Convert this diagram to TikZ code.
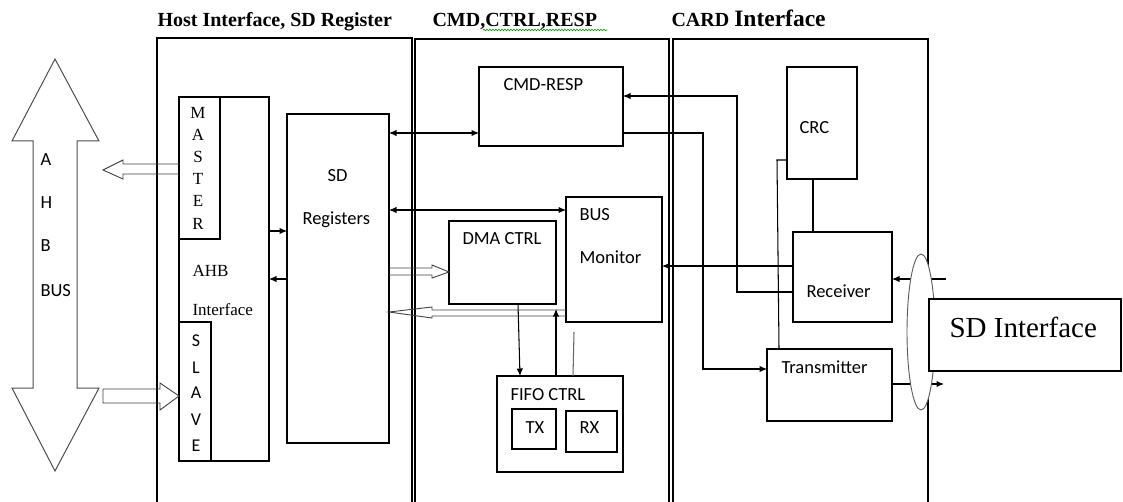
\documentclass[tikz,border=0pt]{standalone}
\usepackage{fontspec}
\setmainfont{Liberation Serif}
\newfontfamily\calib{Carlito}
\usetikzlibrary{arrows.meta,calc,decorations.pathmorphing}
\begin{document}
\begin{tikzpicture}[x=1pt,y=-1pt,
 line width=1.05pt,
 box/.style={draw, inner sep=0pt, outer sep=0pt, anchor=north west},
 sans/.style={inner sep=0pt, anchor=base west, font=\calib\fontsize{18.5}{20}\selectfont},
 serif/.style={inner sep=0pt, anchor=base west, font=\fontsize{17}{19}\selectfont},
 sercen/.style={inner sep=0pt, anchor=base, font=\fontsize{17}{18}\selectfont},
 sanscen/.style={inner sep=0pt, anchor=base, font=\calib\fontsize{18}{20}\selectfont},
 title/.style={inner sep=0pt, anchor=base west, font=\bfseries\fontsize{20}{22}\selectfont},
 arr/.style={-{Latex[length=7.5pt,width=6.5pt]}},
 darr/.style={{Latex[length=7.5pt,width=6.5pt]}-{Latex[length=7.5pt,width=6.5pt]}},
 hollow/.style={draw=black!75, line width=0.9pt},
 panel/.style={draw, line width=1.2pt}
]
\useasboundingbox (0,0) rectangle (1123,502);

% panels
\draw[panel] (157,503) -- (157,38) -- (412,38) -- (412,503);
\draw[panel] (415,503) -- (415,39) -- (669,39) -- (669,503);
\draw[panel] (673,503) -- (673,39) -- (928,39) -- (928,503);

% titles
\node[title] (t1) at (157,27) {Host Interface, SD Register};
\node[title] (t2) at (432,27) {CMD,CTRL,RESP};
\node[title] (t3) at (671,27) {CARD {\fontsize{23.5}{24}\selectfont Interface}};
\draw[green!60!black, line width=0.6pt, decorate, decoration={snake, amplitude=0.8pt, segment length=3pt}] (483,30) -- (607,30);

% AHB bus arrow
\draw[draw=black!70, line width=1pt] (55,59) -- (99,141) -- (77,141) -- (77,388) -- (99,388) -- (55,471) -- (12,388) -- (33,388) -- (33,141) -- (12,141) -- cycle;
\node[sans] (bA) at (40,166) {A};
\node[sans] (bH) at (40,209) {H};
\node[sans] (bB) at (40,252) {B};
\node[sans] (bBUS) at (40,296) {BUS};

% host boxes
\node[box, minimum width=90, minimum height=364] (ahb) at (179,97) {};
\node[box, minimum width=41, minimum height=142] (master) at (179,97) {};
\node[box, minimum width=32, minimum height=139] (slave) at (179,322) {};
\node[box, minimum width=102, minimum height=329] (sdreg) at (287,114) {};

\node[sercen] (m1) at (198,119) {M};
\node[sercen] (m2) at (198,141) {A};
\node[sercen] (m3) at (198,163) {S};
\node[sercen] (m4) at (198,185) {T};
\node[sercen] (m5) at (198,207) {E};
\node[sercen] (m6) at (198,230) {R};
\node[sanscen] (s1) at (196,346) {S};
\node[sanscen] (s2) at (196,373) {L};
\node[sanscen] (s3) at (196,398) {A};
\node[sanscen] (s4) at (196,425) {V};
\node[sanscen] (s5) at (196,451) {E};
\node[serif] (ahbl) at (192,277) {AHB};
\node[serif] (ifl) at (192,315) {Interface};
\node[sans] (sdl) at (327,182) {SD};
\node[sans] (regl) at (302,225) {Registers};

% CMD boxes
\node[box, minimum width=144, minimum height=79] (cmdresp) at (479,67) {};
\node[box, minimum width=96, minimum height=125] (busmon) at (566,197) {};
\node[box, minimum width=107, minimum height=83] (dma) at (449,221) {};
\node[box, minimum width=126, minimum height=96] (fifo) at (497,376) {};
\node[box, minimum width=44, minimum height=40] (tx) at (512,409) {};
\node[box, minimum width=51, minimum height=41] (rx) at (566,411) {};
\node[sans] (cmdl) at (503,91) {CMD-RESP};
\node[sans] (dmal) at (462,245) {DMA CTRL};
\node[sans] (busl) at (579,221) {BUS};
\node[sans] (monl) at (579,264) {Monitor};
\node[sans] (fifol) at (510,400) {FIFO CTRL};
\node[sans] (txl) at (525,433) {TX};
\node[sans] (rxl) at (579,433) {RX};

% CARD boxes
\node[box, minimum width=70, minimum height=112] (crc) at (787,67) {};
\node[box, minimum width=99, minimum height=90] (receiver) at (793,232) {};
\node[box, minimum width=125, minimum height=72] (transmitter) at (767,349) {};
\node[sans] (crcl) at (799,134) {CRC};
\node[sans] (recl) at (806,298) {Receiver};
\node[sans] (trl) at (781,373) {Transmitter};

% hollow arrows
\draw[hollow] (master.west |- 0,164) -- (123,164) -- (123,160) -- (103,170) -- (123,179) -- (123,174) -- (master.west |- 0,174);
\draw[hollow] (103,389) -- (160,389) -- (160,383) -- (slave.west |- 0,396) -- (160,410) -- (160,403) -- (103,403) -- cycle;
\draw[hollow] (sdreg.east |- 0,268) -- (432,268) -- (432,265) -- (dma.west |- 0,272) -- (432,278) -- (432,275) -- (sdreg.east |- 0,275);
\draw[hollow] (busmon.west |- 0,310) -- (432,310) -- (432,307) -- (sdreg.east |- 0,312) -- (432,318) -- (432,316) -- (busmon.west |- 0,316);

% connectors
\draw[darr] (sdreg.east |- 0,133) -- (cmdresp.west |- 0,133);
\draw[darr] (sdreg.east |- 0,210) -- (busmon.west |- 0,210);
\draw[arr] (ahb.east |- 0,231) -- (sdreg.west |- 0,231);
\draw[arr] (sdreg.west |- 0,279) -- (ahb.east |- 0,279);
\draw[arr] ($(dma.south west)+(69,0)$) -- ($(fifo.north west)+(23,0)$);
\coordinate (upend) at (556,309);
\draw[arr] (fifo.north -| upend) -- (upend);
\coordinate (stub) at (574,332);
\draw[draw=black!60] (stub) -- (fifo.north -| 573,0);
\draw[arr] (receiver.west |- 0,292) -- (737,292) -- (737,96) -- (cmdresp.east |- 0,96);
\draw[arr] (cmdresp.east |- 0,133) -- (703,133) -- (703,369) -- (transmitter.west |- 0,369);
\draw[arr] (receiver.west |- 0,266) -- (busmon.east |- 0,266);
\draw (crc.south -| 813,0) -- (receiver.north -| 813,0);
\draw (crc.west |- 0,160) -- (777,160) -- (transmitter.north -| 779,0);
\coordinate (inext) at (946,279);
\draw[arr] (inext) -- (receiver.east |- inext);
\coordinate (outext) at (944,384);
\draw[arr] (transmitter.east |- outext) -- (outext);

% bundle ellipse and SD interface
\draw[draw=black!65, fill=white, line width=0.9pt] (921,332) ellipse [x radius=14, y radius=78];
\node[box, line width=2pt, fill=white, minimum width=192, minimum height=72] (sdif) at (929,299) {};
\node[inner sep=0pt, anchor=base west, font=\fontsize{29}{30}\selectfont] (sdifl) at (949,337) {SD Interface};
\end{tikzpicture}
\end{document}
